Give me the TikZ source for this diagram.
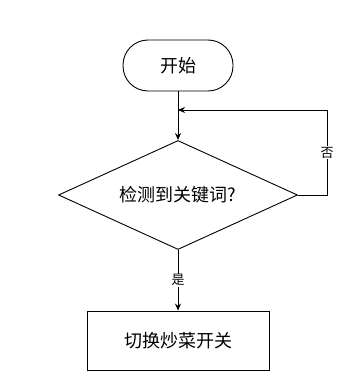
\documentclass[tikz,border=0pt]{standalone}
\usepackage{fontspec}
\setmainfont{Noto Sans CJK SC}
\usetikzlibrary{shapes.geometric,arrows.meta}
\begin{document}
\begin{tikzpicture}[x=1pt,y=-1pt,
  every node/.style={font=\fontsize{18}{21}\selectfont},
  line/.style={draw=black,line width=0.9pt},
  arr/.style={line,-{Stealth[length=7pt,width=6pt]}},
  lbl/.style={fill=white,inner sep=1pt,font=\fontsize{13}{15}\selectfont}]
\useasboundingbox (0,0) rectangle (357,390);
\node[line,rounded corners=25pt,minimum width=110pt,minimum height=51pt] (start) at (178,65.5) {开始};
\node[line,diamond,aspect=2.18,minimum width=239pt,minimum height=109pt,inner sep=0pt] (dec) at (178,195) {检测到关键词?};
\node[line,minimum width=182pt,minimum height=59pt] (act) at (178,340.5) {切换炒菜开关};
\coordinate (m) at (178,110);
\coordinate (c1) at (327,195);
\coordinate (c2) at (327,110);
\draw[arr] (start.south) -- (dec.north);
\draw[arr] (dec.east) -- (c1) -- node[lbl]{否} (c2) -- (m);
\draw[arr] (dec.south) -- node[lbl,pos=0.5]{是} (act.north);
\end{tikzpicture}
\end{document}
